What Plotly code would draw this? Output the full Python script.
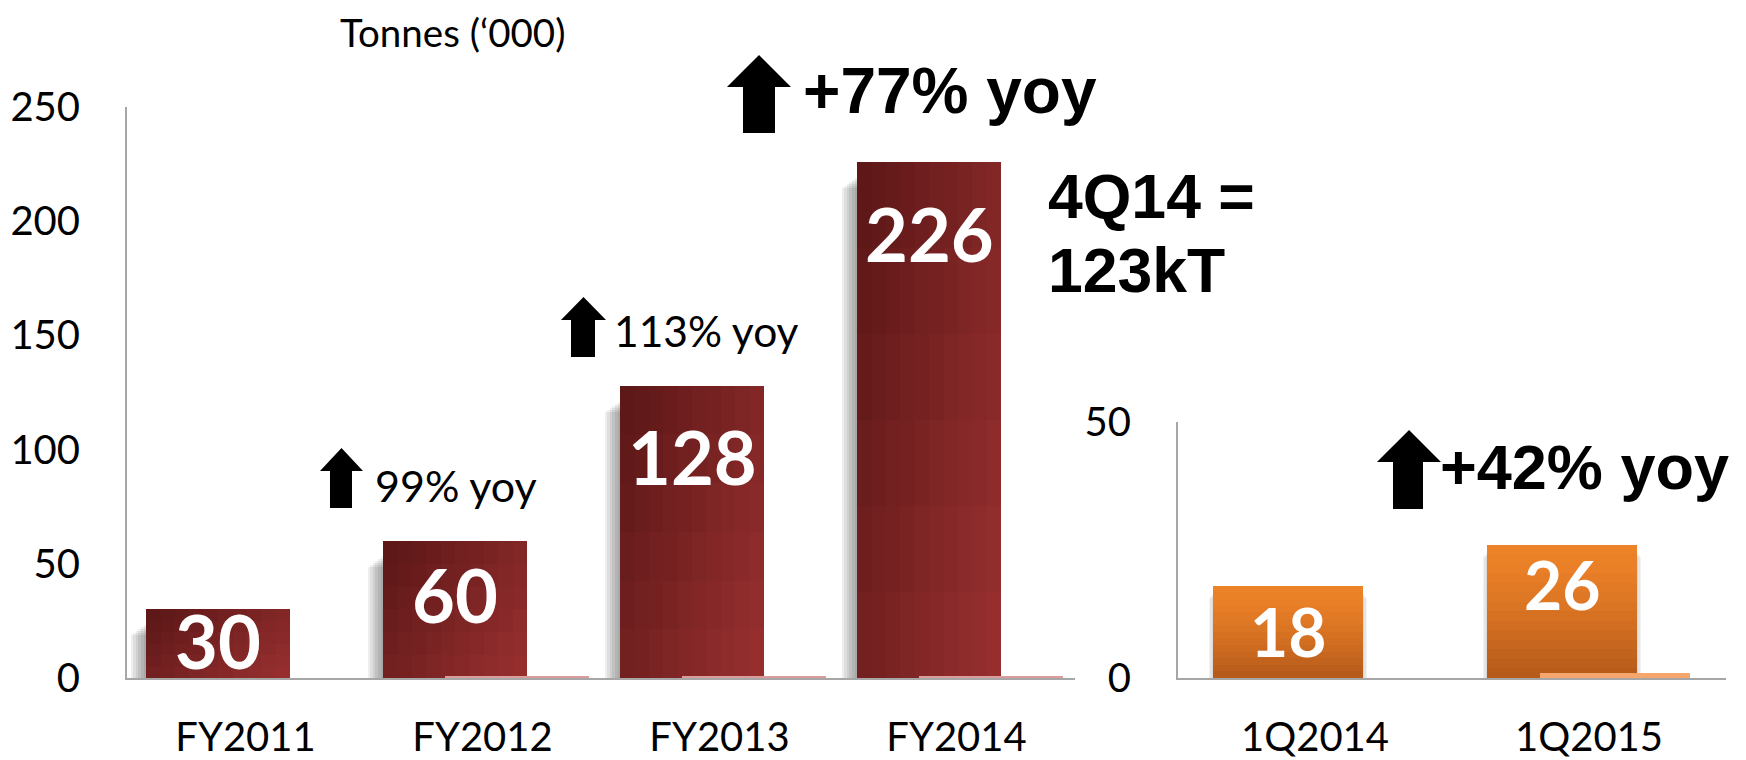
import plotly.graph_objects as go

# ---------------- data ----------------
fy_categories = ["FY2011", "FY2012", "FY2013", "FY2014"]
fy_tonnes = [30, 60, 128, 226]
fy_second_series = [0, 1, 1, 1]

q_categories = ["1Q2014", "1Q2015"]
q_tonnes = [18, 26]
q_second_series = [0, 1]

left_ticks = [0, 50, 100, 150, 200, 250]
right_ticks = [0, 50]

unit_title = "Tonnes (‘000)"
growth_notes = ["99% yoy", "113% yoy", "+77% yoy", "+42% yoy"]
quarter_note = ["4Q14 =", "123kT"]

# ---------------- geometry / style ----------------
W, H = 1746, 760
PAGE = 8  # default body margin of the html page
L_X0, L_X1 = 127, 1075
R_X0, R_X1 = 1178, 1726
Y_BASE, L_TOP, R_TOP = 678, 107, 422

def px(p):
    return (p - PAGE) / W

def py(p):
    return 1 - (p - PAGE) / H

LW, LO1, LO2 = 0.607, -0.419, -0.158
RW, RO1, RO2 = 0.547, -0.372, -0.179

CAL = "Lato, Carlito, Calibri, sans-serif"
ARB = "Liberation Sans, Arial, sans-serif"
AXIS_GREY = "#a6a6a6"

def lerp(c1, c2, t):
    a = [int(c1[i:i + 2], 16) for i in (1, 3, 5)]
    b = [int(c2[i:i + 2], 16) for i in (1, 3, 5)]
    return "rgb({},{},{})".format(*[round(a[k] + (b[k] - a[k]) * t) for k in range(3)])

fig = go.Figure()

# shadows behind the red bars (left side, soft)
l_ppu = (Y_BASE - L_TOP) / 250.0
l_catpx = (L_X1 - L_X0) / len(fy_categories)
for k in range(1, 7):
    fig.add_trace(go.Bar(
        x=fy_categories,
        y=[max(v - (14 + 2 * k) / l_ppu, 0) for v in fy_tonnes],
        offset=LO1 - k * 2.6 / l_catpx, width=k * 2.6 / l_catpx + 0.05,
        marker=dict(color="rgba(0,0,0,0.065)", line=dict(width=0)),
        xaxis="x", yaxis="y", hoverinfo="skip", showlegend=False))

# red bars, diagonal gradient built from layered slices
NX, NY = 10, 6
for i in range(NX):
    for j in range(NY):
        fx = (i + 0.5) / NX
        fy = 1 - (j + 0.5) / NY
        t = 0.62 * fx + 0.38 * fy
        fig.add_trace(go.Bar(
            x=fy_categories,
            y=[v * (1 - j / NY) for v in fy_tonnes],
            base=[v * j / NY for v in fy_tonnes],
            offset=LO1 + i * LW / NX, width=LW * (1 - i / NX),
            marker=dict(color=lerp("#5a1616", "#9a3030", t), line=dict(width=0)),
            xaxis="x", yaxis="y", hoverinfo="skip", showlegend=False))

fig.add_trace(go.Bar(
    x=fy_categories, y=fy_second_series, offset=LO2, width=LW,
    marker=dict(color="#dc9c9c", line=dict(width=0)),
    xaxis="x", yaxis="y", hoverinfo="skip", showlegend=False))

# orange bars, vertical gradient
r_ppu = (Y_BASE - R_TOP) / 50.0
r_catpx = (R_X1 - R_X0) / len(q_categories)
for k in range(1, 4):
    fig.add_trace(go.Bar(
        x=q_categories,
        y=[max(v - (6 + 2 * k) / r_ppu, 0) for v in q_tonnes],
        offset=RO1 - k * 1.5 / r_catpx, width=RW + 2 * k * 1.5 / r_catpx,
        marker=dict(color="rgba(0,0,0,0.05)", line=dict(width=0)),
        xaxis="x2", yaxis="y2", hoverinfo="skip", showlegend=False))

NQ = 14
for j in range(NQ):
    fy = 1 - (j + 0.5) / NQ
    t = fy ** 1.4
    fig.add_trace(go.Bar(
        x=q_categories,
        y=[v * (1 - j / NQ) for v in q_tonnes],
        base=[v * j / NQ for v in q_tonnes],
        offset=RO1, width=RW,
        marker=dict(color=lerp("#b4591a", "#ee8328", 1 - t), line=dict(width=0)),
        xaxis="x2", yaxis="y2", hoverinfo="skip", showlegend=False))

fig.add_trace(go.Bar(
    x=q_categories, y=q_second_series, offset=RO2, width=RW,
    marker=dict(color="#f5a66c", line=dict(width=0)),
    xaxis="x2", yaxis="y2", hoverinfo="skip", showlegend=False))

# ---------------- annotations ----------------
ann = []
left_drop = [31, 54, 71, 72]
for i, v in enumerate(fy_tonnes):
    ann.append(dict(x=i + LO1 + LW / 2, y=v, xref="x", yref="y", yshift=-left_drop[i],
                    text=str(v), showarrow=False, yanchor="middle", xanchor="center",
                    font=dict(family=CAL, size=74, color="white", weight="bold")))
right_drop = [46, 40]
for i, v in enumerate(q_tonnes):
    ann.append(dict(x=i + RO1 + RW / 2, y=v, xref="x2", yref="y2", yshift=-right_drop[i],
                    text=str(v), showarrow=False, yanchor="middle", xanchor="center",
                    font=dict(family=CAL, size=66, color="white", weight="bold")))

def text_at(txt, left, cy, family, size, weight="normal"):
    ann.append(dict(x=px(left), y=py(cy), xref="paper", yref="paper", text=txt,
                    showarrow=False, xanchor="left", yanchor="middle",
                    font=dict(family=family, size=size, color="black", weight=weight)))

text_at(unit_title, 338, 32, CAL, 38.5)
text_at(growth_notes[0], 373, 485, CAL, 43)
text_at(growth_notes[1], 612, 330, CAL, 42.5)
text_at(growth_notes[2], 801, 91, ARB, 64, "bold")
text_at(quarter_note[0], 1046, 196, ARB, 62.5, "bold")
text_at(quarter_note[1], 1046, 270, ARB, 62.5, "bold")
text_at(growth_notes[3], 1438, 467, ARB, 63, "bold")

# ---------------- block arrows ----------------
def arrow(hx0, hx1, sx0, sx1, top, base, bottom):
    cx = (hx0 + hx1) / 2
    pts = [(sx0, bottom), (sx0, base), (hx0, base), (cx, top), (hx1, base),
           (sx1, base), (sx1, bottom)]
    path = "M " + " L ".join("{:.5f},{:.5f}".format(px(a), py(b)) for a, b in pts) + " Z"
    return dict(type="path", xref="paper", yref="paper", path=path,
                fillcolor="black", line=dict(width=0))

shapes = [
    arrow(320, 363, 330, 352, 448, 471, 508),
    arrow(561, 606, 571, 595, 297, 320, 357),
    arrow(727, 791, 743, 775, 55, 87, 133),
    arrow(1377, 1441, 1393, 1423, 430, 462, 509),
]

axis_common = dict(showline=True, linecolor=AXIS_GREY, linewidth=2, ticks="",
                   showgrid=False, zeroline=False, fixedrange=True, automargin=False)

fig.update_layout(
    width=W, height=H,
    margin=dict(l=0, r=0, t=0, b=0, pad=0, autoexpand=False),
    paper_bgcolor="white", plot_bgcolor="white",
    barmode="overlay", bargap=0, showlegend=False,
    annotations=ann, shapes=shapes,
    xaxis=dict(domain=[px(L_X0), px(L_X1)], anchor="y", type="category",
               categoryorder="array", categoryarray=fy_categories,
               range=[-0.5, len(fy_categories) - 0.5],
               tickfont=dict(family=CAL, size=40, color="black"),
               ticklabelstandoff=23, **axis_common),
    yaxis=dict(domain=[py(Y_BASE), py(L_TOP)], anchor="x", range=[0, 250],
               tickvals=left_ticks, tickfont=dict(family=CAL, size=40, color="black"),
               ticklabelstandoff=37, **axis_common),
    xaxis2=dict(domain=[px(R_X0), px(R_X1)], anchor="y2", type="category",
                categoryorder="array", categoryarray=q_categories,
                range=[-0.5, len(q_categories) - 0.5],
                tickfont=dict(family=CAL, size=40, color="black"),
                ticklabelstandoff=23, **axis_common),
    yaxis2=dict(domain=[py(Y_BASE), py(R_TOP)], anchor="x2", range=[0, 50],
                tickvals=right_ticks, tickfont=dict(family=CAL, size=40, color="black"),
                ticklabelstandoff=37, **axis_common),
)

fig.write_html("out.html")
